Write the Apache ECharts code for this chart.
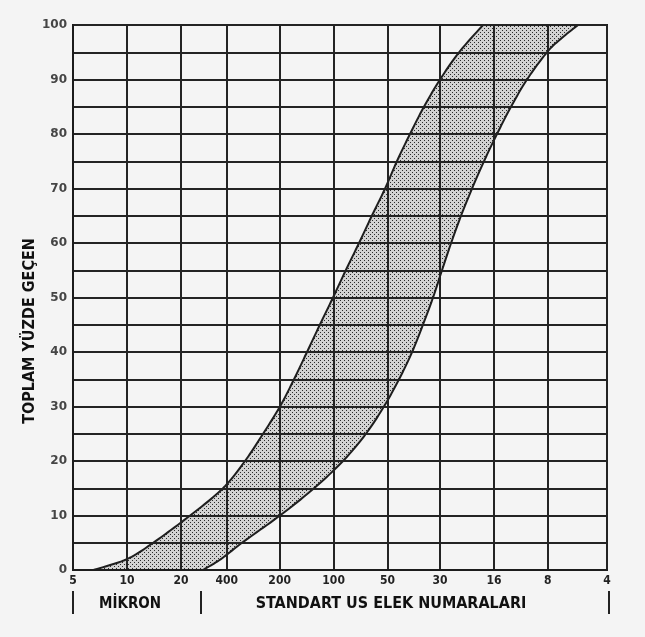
<!DOCTYPE html>
<html>
<head>
<meta charset="utf-8">
<script src="https://cdn.jsdelivr.net/npm/echarts@6/dist/echarts.min.js"></script>
<style>
html,body{margin:0;padding:0;background:#f4f4f4;}
#chart{width:645px;height:637px;}
</style>
</head>
<body>
<div id="chart"></div>
<script>
// Axis tick labels (sieve numbers / microns) and their positions in microns
const sieveLabels = ['5','10','20','400','200','100','50','30','16','8','4'];
const sieveMicrons = [5, 10, 20, 36, 71, 142, 284, 556, 1112, 2218, 4750];
const yTickLabels = [0,10,20,30,40,50,60,70,80,90,100];

// Finer (upper/left) limit of the grading envelope
const finerPct  = [0, 2, 5, 10, 15, 20, 25, 30, 35, 40, 45, 50, 55, 60, 65, 70, 75, 80, 85, 90, 95, 100];
const finerSize = [6.5, 10, 14, 22.5, 34.3, 45.5, 57.4, 71.3, 85.4, 100.9, 119, 140.9, 166, 196.8, 232, 275, 320, 378.6, 453, 557, 711, 967];

// Coarser (lower/right) limit of the grading envelope
const coarsePct  = [0, 2, 5, 10, 15, 20, 25, 30, 35, 40, 45, 50, 55, 60, 65, 70, 75, 80, 85, 90, 95, 97.5, 100];
const coarseSize = [26.5, 33.4, 43.8, 71.3, 110.4, 160.2, 215, 271, 329, 389, 447, 509, 571, 642, 729, 840, 979, 1157, 1385, 1701, 2199, 2633, 3275];

const yAxisTitle = 'TOPLAM YÜZDE GEÇEN';
const micronTitle = 'MİKRON';
const sieveTitle = 'STANDART US ELEK NUMARALARI';

// stipple pattern
const pc = document.createElement('canvas');
pc.width = 4; pc.height = 4;
const pctx = pc.getContext('2d');
pctx.fillStyle = '#d2d2d2'; pctx.fillRect(0,0,4,4);
pctx.fillStyle = '#2a2a2a';
pctx.fillRect(0,0,1,1); pctx.fillRect(2,2,1,1);

const finerData = finerSize.map((s,i)=>[s, finerPct[i]]);
const coarseData = coarseSize.map((s,i)=>[s, coarsePct[i]]);

// Catmull-Rom sampling in screen space (rendering only)
function smoothPts(p){
  const out = [];
  const n = p.length;
  for (let i = 0; i < n - 1; i++){
    const p0 = p[Math.max(0, i-1)], p1 = p[i], p2 = p[i+1], p3 = p[Math.min(n-1, i+2)];
    const steps = 12;
    for (let s = 0; s < steps; s++){
      const t = s / steps, t2 = t*t, t3 = t2*t;
      const x = 0.5*((2*p1[0]) + (-p0[0]+p2[0])*t + (2*p0[0]-5*p1[0]+4*p2[0]-p3[0])*t2 + (-p0[0]+3*p1[0]-3*p2[0]+p3[0])*t3);
      const y = 0.5*((2*p1[1]) + (-p0[1]+p2[1])*t + (2*p0[1]-5*p1[1]+4*p2[1]-p3[1])*t2 + (-p0[1]+3*p1[1]-3*p2[1]+p3[1])*t3);
      out.push([x,y]);
    }
  }
  out.push(p[n-1]);
  return out;
}

const chart = echarts.init(document.getElementById('chart'), null, {renderer:'canvas'});
const narrow = "'Liberation Sans Narrow','DejaVu Sans Condensed','Arial Narrow',sans-serif";

chart.setOption({
  backgroundColor: '#f4f4f4',
  animation: false,
  grid: {left: 73, right: 38, top: 25, bottom: 67, show: true, borderColor: '#1c1c1c', borderWidth: 2, backgroundColor: 'transparent'},
  xAxis: {
    type: 'log', logBase: 2, min: 5, max: 4750,
    axisLine: {show: true, lineStyle: {color: '#1c1c1c', width: 2}},
    axisTick: {show: false, customValues: sieveMicrons},
    splitLine: {show: true, lineStyle: {color: '#232323', width: 2}},
    axisLabel: {
      customValues: sieveMicrons,
      margin: 5,
      color: '#222', fontSize: 12, fontWeight: 'bold', fontFamily: narrow,
      formatter: function(v){
        let best = 0, bd = Infinity;
        sieveMicrons.forEach((m,i)=>{ const d = Math.abs(Math.log(m) - Math.log(v)); if (d < bd){bd = d; best = i;} });
        return sieveLabels[best];
      }
    }
  },
  yAxis: {
    type: 'value', min: 0, max: 100, interval: 5,
    axisLine: {show: true, lineStyle: {color: '#1c1c1c', width: 2}},
    axisTick: {show: false},
    splitLine: {show: true, lineStyle: {color: '#232323', width: 2}},
    axisLabel: {
      customValues: yTickLabels,
      margin: 6,
      color: '#454545', fontSize: 12, fontWeight: 'bold', fontFamily: "'DejaVu Sans',sans-serif"
    }
  },
  series: [
    {
      type: 'custom',
      z: -1,
      clip: true,
      data: [[finerSize[0], 0]],
      renderItem: function(params, api){
        const f = smoothPts(finerData.map(d => api.coord(d)));
        const c = smoothPts(coarseData.map(d => api.coord(d)));
        const poly = f.concat(c.slice().reverse());
        return {
          type: 'group',
          children: [
            {type: 'polygon', shape: {points: poly}, style: {fill: {image: pc, repeat: 'repeat'}, stroke: null}},
            {type: 'polyline', shape: {points: f}, style: {fill: null, stroke: '#1e1e1e', lineWidth: 2}},
            {type: 'polyline', shape: {points: c}, style: {fill: null, stroke: '#1e1e1e', lineWidth: 2}}
          ]
        };
      }
    }
  ],
  graphic: [
    {type: 'text', x: 30, y: 331, rotation: Math.PI/2,
     style: {text: yAxisTitle, font: "bold 16px " + narrow, fill: '#111', align: 'center', verticalAlign: 'middle'}},
    {type: 'text', x: 130, y: 604,
     style: {text: micronTitle, font: "bold 15px " + narrow, fill: '#111', align: 'center', verticalAlign: 'middle'}},
    {type: 'text', x: 391, y: 604,
     style: {text: sieveTitle, font: "bold 16px " + narrow, fill: '#111', align: 'center', verticalAlign: 'middle'}},
    {type: 'line', shape: {x1: 73, y1: 591, x2: 73, y2: 614}, style: {stroke: '#222', lineWidth: 2}},
    {type: 'line', shape: {x1: 201, y1: 591, x2: 201, y2: 614}, style: {stroke: '#222', lineWidth: 2}},
    {type: 'line', shape: {x1: 609, y1: 591, x2: 609, y2: 614}, style: {stroke: '#222', lineWidth: 2}}
  ]
});
</script>
</body>
</html>
